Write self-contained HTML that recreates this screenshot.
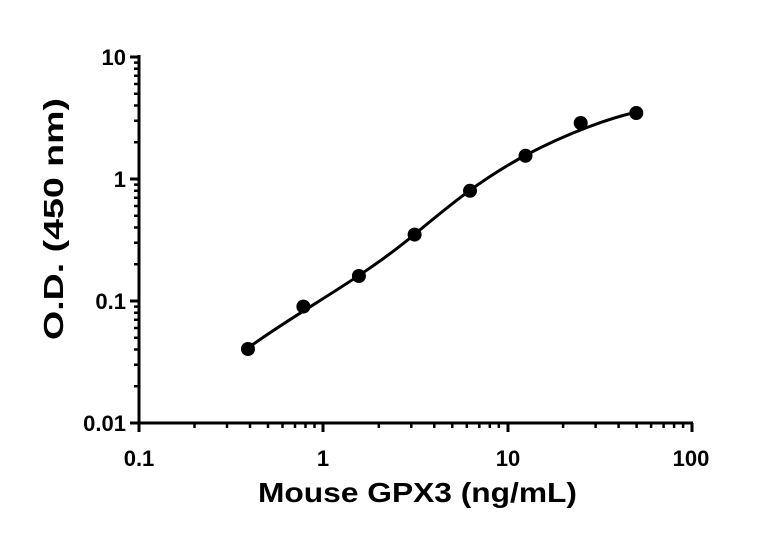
<!DOCTYPE html>
<html><head><style>body{margin:0;background:#fff}svg{display:block}</style></head><body>
<svg width="768" height="534" xmlns="http://www.w3.org/2000/svg" font-family="Liberation Sans, sans-serif" font-weight="bold">
<g stroke="#000" stroke-width="3" fill="none">
<line x1="139" y1="55" x2="139" y2="424.5"/>
<line x1="137.5" y1="423" x2="693" y2="423"/>
<line x1="130" y1="57" x2="139" y2="57"/><line x1="130" y1="179" x2="139" y2="179"/><line x1="130" y1="301" x2="139" y2="301"/><line x1="130" y1="423" x2="139" y2="423"/>
<line x1="139" y1="423" x2="139" y2="432"/><line x1="323" y1="423" x2="323" y2="432"/><line x1="508" y1="423" x2="508" y2="432"/><line x1="692" y1="423" x2="692" y2="432"/>
</g>
<g stroke="#000" stroke-width="2.5">
<path id="xm" d="M194.5,423v5M227,423v5M250,423v5M268,423v5M282.5,423v5M295,423v5M305.5,423v5M314.5,423v5"/>
<use href="#xm" x="184.3"/><use href="#xm" x="368.6"/>
<path id="ym" d="M139,386.3h-5M139,364.8h-5M139,349.5h-5M139,337.7h-5M139,328h-5M139,319.8h-5M139,312.8h-5M139,306.6h-5"/>
<use href="#ym" y="-122"/><use href="#ym" y="-244"/>
</g>
<path d="M248,348 C300,310 360,280 415,234 C450,205 480,180 526,155 C570,132 610,118 637,112" stroke="#000" stroke-width="3" fill="none"/>
<g fill="#000">
<circle cx="248" cy="349" r="7"/><circle cx="303.4" cy="306.6" r="7"/><circle cx="358.9" cy="276" r="7"/><circle cx="414.6" cy="234.6" r="7"/><circle cx="470" cy="190.8" r="7"/><circle cx="525.5" cy="155.8" r="7"/><circle cx="580.7" cy="123" r="7"/><circle cx="636.3" cy="113" r="7"/>
</g>
<g font-size="22" text-anchor="end">
<text x="126" y="65">10</text><text x="126" y="187">1</text><text x="126" y="309">0.1</text><text x="126" y="431">0.01</text>
</g>
<g font-size="22" text-anchor="middle">
<text x="139" y="466">0.1</text><text x="323" y="466">1</text><text x="508" y="466">10</text><text x="691" y="466">100</text>
</g>
<text x="258" y="502" font-size="28" textLength="319" lengthAdjust="spacingAndGlyphs">Mouse GPX3 (ng/mL)</text>
<text transform="translate(63,340) rotate(-90)" font-size="28" textLength="242" lengthAdjust="spacingAndGlyphs">O.D. (450 nm)</text>
</svg>
</body></html>
